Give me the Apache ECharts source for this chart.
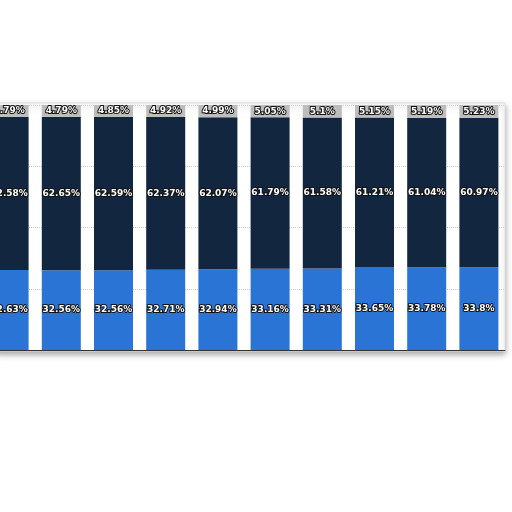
<!DOCTYPE html>
<html>
<head>
<meta charset="utf-8">
<script src="https://cdn.jsdelivr.net/npm/echarts@6/dist/echarts.min.js"></script>
<style>
html,body{margin:0;padding:0;background:#fff;}
#main{width:512px;height:512px;}
</style>
</head>
<body>
<div id="main"></div>
<script>
// 100% stacked bars, cropped view
var categories = ['1','2','3','4','5','6','7','8','9','10'];
var bottomVals = [32.63,32.56,32.56,32.71,32.94,33.16,33.31,33.65,33.78,33.8];
var middleVals = [62.58,62.65,62.59,62.37,62.07,61.79,61.58,61.21,61.04,60.97];
var topVals = [4.79,4.79,4.85,4.92,4.99,5.05,5.1,5.15,5.19,5.23];
var yTicks = [0,25,50,75,100];

function makeSeries(name,data,color){
    return {
        type:'bar',
        name:name,
        stack:'total',
        barWidth:39,
        data:data,
        itemStyle:{color:color},
        label:{
            show:true,
            position:'inside',
            color:'#fff',
            fontFamily:'DejaVu Sans',
            fontWeight:'bold',
            fontSize:9,
            textBorderColor:'#111',
            textBorderWidth:2,
            formatter:function(p){ return p.value + '%'; }
        }
    };
}

var chart = echarts.init(document.getElementById('main'));
var option = {
    animation:false,
    backgroundColor:'#fff',
    graphic:[
        {type:'rect',z:-10,shape:{x:-5,y:103,width:510,height:248},
         style:{fill:'#fff',stroke:'#dedede',lineWidth:1,shadowBlur:6,shadowColor:'rgba(0,0,0,0.35)',shadowOffsetY:3}}
    ],
    grid:{left:-17,right:7,top:105,bottom:162,outerBoundsMode:'none',containLabel:false},
    xAxis:{
        type:'category',
        data:categories,
        axisTick:{show:false},
        axisLabel:{show:false},
        axisLine:{lineStyle:{color:'#333',width:1}}
    },
    yAxis:{
        type:'value',
        min:yTicks[0],
        max:yTicks[yTicks.length-1],
        interval:25,
        axisLabel:{show:false},
        axisLine:{show:false},
        axisTick:{show:false},
        splitLine:{show:true,lineStyle:{color:'#cfcfcf',type:'dotted'}}
    },
    series:[
        makeSeries('bottom',bottomVals,'#2a74d6'),
        makeSeries('middle',middleVals,'#12263f'),
        makeSeries('top',topVals,'#bdbdbd')
    ]
};
chart.setOption(option);
</script>
</body>
</html>
